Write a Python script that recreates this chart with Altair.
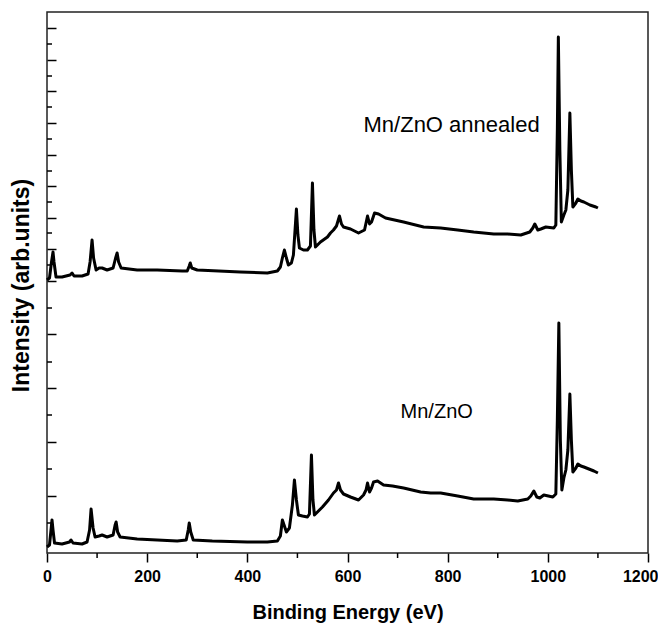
import altair as alt
import pandas as pd

# Binding energy (eV) and intensity (arb. units) for each spectrum
energy_mnzno = [0, 5, 8, 10, 12, 15, 30, 45, 48, 52, 70, 80, 85, 88, 92, 96, 104, 110, 120, 132,
                136, 138, 141, 146, 180, 220, 260, 278, 282, 284, 287, 292, 330, 400, 440, 460,
                466, 470, 474, 478, 484, 490, 494, 498, 502, 510, 520, 524, 528, 531, 534, 540,
                550, 562, 572, 578, 582, 586, 592, 606, 622, 632, 637, 640, 644, 648, 652, 660,
                672, 690, 712, 746, 766, 786, 820, 852, 892, 920, 940, 960, 966, 972, 978, 984,
                992, 1010, 1016, 1019, 1022, 1025, 1028, 1032, 1036, 1040, 1044, 1047, 1050,
                1056, 1060, 1066, 1072, 1082, 1092, 1100]
intensity_mnzno = [6, 8, 23, 33, 23, 10, 9, 11, 13, 10, 9, 11, 23, 44, 25, 16, 17, 18, 16, 18,
                   28, 31, 21, 16, 14, 13, 12, 13, 23, 30, 21, 13, 12, 11, 11, 12,
                   17, 33, 27, 21, 25, 48, 73, 53, 38, 37, 36, 39, 98, 53, 38, 41,
                   46, 53, 60, 63, 70, 63, 59, 56, 53, 58, 63, 70, 61, 65, 71, 72,
                   68, 67, 65, 61, 60, 60, 57, 54, 54, 53, 52, 54, 57, 62, 56, 55,
                   58, 56, 59, 133, 230, 113, 63, 75, 83, 103, 159, 113, 81,
                   85, 89, 87, 86, 84, 82, 80]

energy_annealed = [0, 5, 9, 12, 14, 18, 30, 46, 50, 54, 70, 82, 86, 90, 93, 98, 104, 110, 120, 132,
                   137, 140, 143, 148, 180, 220, 270, 280, 284, 286, 289, 300, 386, 440, 460, 466,
                   470, 474, 478, 482, 488, 492, 498, 501, 504, 512, 520, 526, 530, 533, 536, 546,
                   560, 566, 572, 578, 584, 588, 592, 606, 622, 634, 640, 644, 648, 654, 662, 676,
                   712, 752, 786, 820, 852, 892, 920, 946, 964, 970, 974, 980, 986, 996, 1012,
                   1016, 1019, 1021, 1024, 1027, 1032, 1036, 1040, 1044, 1047, 1050, 1056, 1060,
                   1066, 1072, 1084, 1096, 1100]
intensity_annealed = [273, 275, 291, 301, 291, 276, 276, 278, 280, 277, 277, 279, 291, 313, 295, 283, 285, 285, 283, 285,
                      295, 300, 291, 285, 283, 283, 282, 282, 287, 290, 285, 283, 281, 280, 282, 286,
                      295, 303, 295, 288, 290, 298, 344, 318, 305, 303, 303, 307, 370, 323, 306, 311,
                      316, 320, 323, 327, 337, 329, 326, 324, 320, 323, 337, 329, 331, 340, 339, 335,
                      331, 326, 325, 323, 321, 319, 319, 318, 321, 325, 329, 323, 324, 326, 325,
                      328, 423, 516, 403, 331, 338, 343, 363, 440, 383, 346, 350, 354,
                      352, 351, 348, 346, 345]

x_major_ticks = [0, 200, 400, 600, 800, 1000, 1200]
x_minor_ticks = [100, 300, 500, 700, 900, 1100]
y_major_ticks = [525, 493, 462, 430, 398, 367, 335, 304, 272, 219, 165, 111, 57]
y_minor_ticks = [509, 477, 446, 414, 382, 351, 320, 288, 245, 191, 138, 84, 30]

labels = ["Mn/ZnO annealed", "Mn/ZnO"]
label_sizes = [22, 20]
label_energy = [632, 706]
label_intensity = [428, 141]

rows = []
for name, es, ys in [("Mn/ZnO", energy_mnzno, intensity_mnzno),
                     ("Mn/ZnO annealed", energy_annealed, intensity_annealed)]:
    for i, (e, v) in enumerate(zip(es, ys)):
        rows.append({"sample": name, "energy": e, "intensity": v, "idx": i})
df = pd.DataFrame(rows)
ann = pd.DataFrame({"text": labels, "energy": label_energy, "intensity": label_intensity,
                    "size": label_sizes})
xminor = pd.DataFrame({"energy": x_minor_ticks})
yminor = pd.DataFrame({"intensity": y_minor_ticks})

W, H = 601, 541
FONT = "Liberation Sans"

x_scale = alt.Scale(domain=[0, 1200], nice=False, zero=False)
y_scale = alt.Scale(domain=[0, 541], nice=False, zero=False)

x_axis = alt.Axis(
    values=x_major_ticks, format="d",
    tickSize=9, tickColor="black", tickWidth=1.5, domain=False, grid=False,
    labelFont=FONT, labelFontSize=16, labelFontWeight="bold", labelColor="black",
    labelPadding=6, labelFlush=False, labelOverlap=False,
    labelAlign={"condition": {"test": "datum.value === 1200", "value": "right"}, "value": "center"},
    labelOffset={"condition": {"test": "datum.value === 1200", "value": 10}, "value": 0},
    title="Binding Energy (eV)", titleFont=FONT, titleFontSize=20, titleFontWeight="bold",
    titleColor="black", titleY=59, titleBaseline="middle",
)

y_axis = alt.Axis(
    orient="right", offset=-W,
    values=y_major_ticks, labels=False, domain=False, grid=False,
    tickSize=9, tickColor="black", tickWidth=1.5,
    title="Intensity (arb.units)", titleFont=FONT, titleFontSize=23, titleFontWeight="bold",
    titleColor="black", titleX=-26, titleY=273, titleAngle=270,
    titleAlign="center", titleBaseline="middle",
)

lines = alt.Chart(df).mark_line(color="black", strokeWidth=3, strokeJoin="round").encode(
    x=alt.X("energy:Q", scale=x_scale, axis=x_axis),
    y=alt.Y("intensity:Q", scale=y_scale, axis=y_axis),
    detail="sample:N",
    order="idx:Q",
)

texts = alt.Chart(ann).mark_text(align="left", baseline="middle", font=FONT,
                                 color="black").encode(
    x=alt.X("energy:Q", scale=x_scale),
    y=alt.Y("intensity:Q", scale=y_scale),
    text="text:N",
    size=alt.Size("size:Q", scale=None, legend=None),
)

x_minor_rules = alt.Chart(xminor).mark_rule(color="black", strokeWidth=1.5).encode(
    x=alt.X("energy:Q", scale=x_scale),
    y=alt.value(H),
    y2=alt.value(H + 5),
)

y_minor_rules = alt.Chart(yminor).mark_rule(color="black", strokeWidth=1.5).encode(
    y=alt.Y("intensity:Q", scale=y_scale),
    x=alt.value(0),
    x2=alt.value(5),
)

chart = alt.layer(lines, texts, x_minor_rules, y_minor_rules).properties(
    width=W, height=H,
    autosize=alt.AutoSizeParams(type="none"),
    padding={"left": 39, "top": 4, "right": 10, "bottom": 70},
    background="white",
).configure_view(stroke="#222222", strokeWidth=1.5)

chart.save("out.html", embed_options={"renderer": "svg", "actions": False})
